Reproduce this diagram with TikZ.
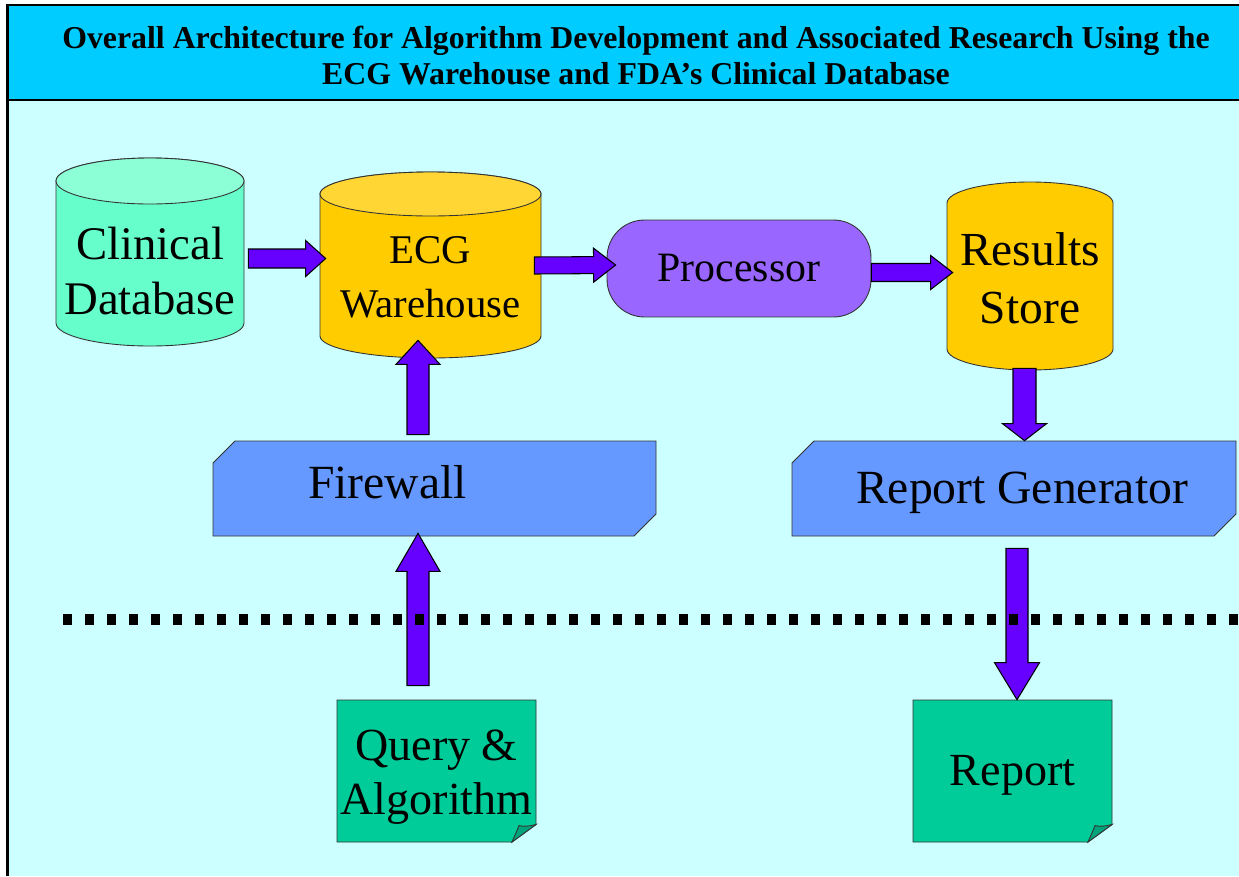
\documentclass[tikz,border=0pt]{standalone}
\usepackage{fontspec}
\setmainfont{Liberation Serif}
\usetikzlibrary{calc}

\definecolor{skybg}{HTML}{CCFFFF}
\definecolor{titlebg}{HTML}{00CCFF}
\definecolor{mint}{HTML}{66FFCC}
\definecolor{minttop}{HTML}{8CFFD6}
\definecolor{gold}{HTML}{FFCC00}
\definecolor{goldtop}{HTML}{FFD633}
\definecolor{lilac}{HTML}{9966FF}
\definecolor{panelblue}{HTML}{6699FF}
\definecolor{notegreen}{HTML}{00CC99}
\definecolor{foldgreen}{HTML}{00A37A}
\definecolor{flowpurple}{HTML}{6600FF}

% cylinder body: cx, cy, width, height, ry, fill
\newcommand{\dbcyl}[6]{%
  \draw[outline, fill=#6] ({#1-#3/2},{#2+#4/2-#5}) -- ({#1-#3/2},{#2-#4/2+#5})
    arc[start angle=180, end angle=360, x radius=#3/2, y radius=#5]
    -- ({#1+#3/2},{#2+#4/2-#5})
    arc[start angle=0, end angle=180, x radius=#3/2, y radius=#5] -- cycle;}
\newcommand{\dbtop}[6]{%
  \draw[outline, fill=#6] (#1,{#2+#4/2-#5}) ellipse[x radius=#3/2, y radius=#5];}

% folded corner of a sheet: right, bottom
\newcommand{\flap}[2]{%
  \draw[outline, fill=foldgreen] ({#1-24},{#2}) -- ({#1},{#2+17.5})
    .. controls ({#1-6},{#2+16}) and ({#1-12},{#2+15}) .. ({#1-17},{#2+16.5})
    .. controls ({#1-19},{#2+11}) and ({#1-22},{#2+5}) .. ({#1-24},{#2}) -- cycle;}

% block arrow: from, to, shaft half width, head half width, head length
\newcommand{\blockarrow}[5]{%
  \coordinate (ba-a) at #1;
  \coordinate (ba-b) at #2;
  \pgfmathsetlengthmacro\baS{#3*0.02cm}%
  \pgfmathsetlengthmacro\baH{#4*0.02cm}%
  \pgfmathsetlengthmacro\baL{#5*0.02cm}%
  \coordinate (ba-h) at ($(ba-b)!\baL!(ba-a)$);
  \draw[flow] ($(ba-a)!\baS!90:(ba-b)$) -- ($(ba-h)!\baS!90:(ba-b)$)
    -- ($(ba-h)!\baH!90:(ba-b)$) -- (ba-b) -- ($(ba-h)!\baH!-90:(ba-b)$)
    -- ($(ba-h)!\baS!-90:(ba-b)$) -- ($(ba-a)!\baS!-90:(ba-b)$) -- cycle;}

\begin{document}
\begin{tikzpicture}[x=0.02cm, y=0.02cm]
\tikzstyle{outline}=[draw=black!80, line width=0.5pt]
\tikzstyle{flow}=[draw=black, line width=0.6pt, fill=flowpurple, line join=miter]
\tikzstyle{titletext}=[align=center, inner sep=0pt, font=\fontsize{18.1}{21}\selectfont\bfseries]
\tikzstyle{dbtext}=[align=center, inner sep=0pt, font=\fontsize{26.6}{31}\selectfont]
\tikzstyle{procbox}=[outline, fill=lilac, rounded corners=0.75cm, inner sep=0pt, minimum width=5.28cm, minimum height=1.94cm, font=\fontsize{23.8}{28}\selectfont]
\tikzstyle{slab}=[inner sep=0pt, minimum width=8.87cm, minimum height=1.9cm]
\tikzstyle{paneltext}=[inner sep=0pt, font=\fontsize{27.1}{32}\selectfont]
\tikzstyle{sheet}=[inner sep=0pt, minimum width=3.98cm, minimum height=2.84cm]
\tikzstyle{sheettext}=[align=center, inner sep=0pt, font=\fontsize{26.2}{31}\selectfont]
\tikzstyle{fence}=[line width=0.22cm, dash pattern=on 0.18cm off 0.26cm]

\useasboundingbox (0,0) rectangle (1239,-876);
\fill[white] (0,0) rectangle (1239,-876);
\fill[skybg] (7.5,-5) rectangle (1239,-876);
\fill[titlebg] (7.5,-5) rectangle (1239,-100);
\draw[line width=1.5pt] (7.5,-876) -- (7.5,-5) -- (1239,-5);
\draw[line width=1.5pt] (7.5,-100) -- (1239,-100);

\node[titletext] (title) at (636,-55.5) {Overall Architecture for Algorithm Development and Associated Research Using the\\ECG Warehouse and FDA’s Clinical Database};

\dbcyl{150}{-252}{188}{188}{23}{mint}
\dbtop{150}{-252}{188}{188}{23}{minttop}
\dbcyl{430.5}{-265}{221}{186}{22}{gold}
\dbtop{430.5}{-265}{221}{186}{22}{goldtop}
\dbcyl{1030}{-276}{166}{188}{21}{gold}

\draw[outline, fill=panelblue] (213,-463) -- (235,-441) -- (656,-441) -- (656,-514) -- (634,-536) -- (213,-536) -- cycle;
\draw[outline, fill=panelblue] (792,-463) -- (814,-441) -- (1236,-441) -- (1236,-514) -- (1214,-536) -- (792,-536) -- cycle;

\draw[outline, fill=notegreen] (337,-700) -- (536,-700) -- (536,-824.5) -- (512,-842) -- (337,-842) -- cycle;
\flap{536}{-842}
\draw[outline, fill=notegreen] (913,-700) -- (1112,-700) -- (1112,-824.5) -- (1088,-842) -- (913,-842) -- cycle;
\flap{1112}{-842}

\node[dbtext, minimum width=3.76cm, minimum height=3.2cm] (clin) at (150,-271) {Clinical\\Database};
\node[dbtext, font=\fontsize{23.2}{31}\selectfont, minimum width=4.42cm, minimum height=3.22cm] (ecg) at (430.5,-277.5) {ECG\\Warehouse};
\node[procbox] (proc) at (739,-268.5) {Processor};
\node[dbtext, font=\fontsize{27}{33}\selectfont, minimum width=3.32cm, minimum height=3.64cm] (res) at (1030,-278) {Results\\Store};
\node[slab, label={[paneltext, xshift=-0.94cm, yshift=0.13cm]center:Firewall}] (fw) at (434.5,-488.5) {};
\node[slab, minimum width=8.88cm, label={[paneltext, xshift=0.16cm, yshift=-0.09cm]center:Report Generator}] (rg) at (1014,-488.5) {};
\node[sheet, label={[sheettext, yshift=-0.12cm]center:Query \&\\Algorithm}] (qa) at (436.5,-771) {};
\node[sheet, label={[sheettext, yshift=-0.08cm]center:Report}] (rep) at (1012.5,-771) {};

\blockarrow{($(clin.east)+(4,12.5)$)}{($(ecg.west)+(6,19)$)}{9.5}{18}{20}
\blockarrow{($(ecg.east)+(-7,12)$)}{($(proc.west)+(9,3.5)$)}{8.5}{17}{22}
\blockarrow{($(proc.east)+(0,-4)$)}{($(res.west)+(6,5.5)$)}{9}{17}{22}
\blockarrow{($(fw.north)+(-16.5,6)$)}{($(ecg.south)+(-12.5,18)$)}{11}{22}{24}
\blockarrow{($(qa.north)+(-18.5,14)$)}{($(fw.south)+(-16.5,3)$)}{11}{22}{38}
\blockarrow{($(res.south)+(-5.5,1)$)}{($(rg.north)+(10.5,0)$)}{11.5}{22}{17}
\blockarrow{($(rg.south)+(3,-12)$)}{($(rep.north)+(4.5,0)$)}{11}{22.5}{37}

\draw[fence] (63,-619) -- (1239,-619);

\end{tikzpicture}
\end{document}
